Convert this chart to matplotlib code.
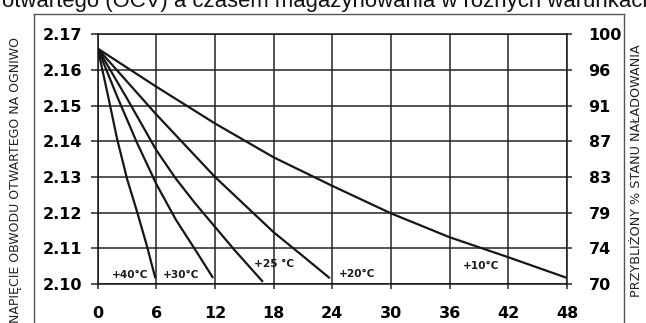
import matplotlib
matplotlib.use("Agg")
import matplotlib.pyplot as plt
from matplotlib.lines import Line2D

plt.rcParams['font.family'] = ['DejaVu Sans']

# ---- data ----
hours_ticks = [0, 6, 12, 18, 24, 30, 36, 42, 48]
voltage_ticks = [2.10, 2.11, 2.12, 2.13, 2.14, 2.15, 2.16, 2.17]
soc_labels = ['70', '74', '79', '83', '87', '91', '96', '100']

t40 = [0, 1, 2, 3, 4, 5, 5.9]
v40 = [2.166, 2.1535, 2.1405, 2.1295, 2.1205, 2.111, 2.1016]

t30 = [0, 2, 4, 6, 8, 10, 11.8]
v30 = [2.166, 2.1525, 2.1397, 2.128, 2.118, 2.1095, 2.1017]

t25 = [0, 3, 6, 8, 10, 12, 14, 16.9]
v25 = [2.166, 2.152, 2.1375, 2.1295, 2.1225, 2.116, 2.1095, 2.1006]

t20 = [0, 6, 12, 18, 21, 23.75]
v20 = [2.166, 2.1475, 2.130, 2.1145, 2.1078, 2.1016]

t10 = [0, 6, 12, 18, 24, 30, 36, 42, 48]
v10 = [2.166, 2.1553, 2.1450, 2.1355, 2.1275, 2.1198, 2.1131, 2.1075, 2.1017]

series = [(t40, v40), (t30, v30), (t25, v25), (t20, v20), (t10, v10)]

curve_labels = ['+40°C', '+30°C', '+25 °C', '+20°C', '+10°C']
label_x = [1.4, 6.7, 16.0, 24.7, 37.4]
label_y = [2.1025, 2.1025, 2.1056, 2.1027, 2.1051]

title_text = 'otwartego (OCV) a czasem magazynowania w różnych warunkach temperaturowych'
left_label = 'NAPIĘCIE OBWODU OTWARTEGO NA OGNIWO'
right_label = 'PRZYBLIŻONY % STANU NAŁADOWANIA'

# ---- figure ----
W, H = 646, 323
fig = plt.figure(figsize=(W / 100, H / 100), dpi=100)
ax = fig.add_axes([97.7 / W, 1 - 284 / H, (567 - 97.7) / W, (284 - 34.3) / H])

grid_c = '#242424'
for t, v in series:
    ax.plot(t, v, color='#161616', lw=1.6, solid_capstyle='butt', zorder=3)

ax.set_xlim(0, 48)
ax.set_ylim(2.10, 2.17)
ax.set_xticks(hours_ticks)
ax.set_xticklabels([str(h) for h in hours_ticks])
ax.set_yticks(voltage_ticks)
ax.set_yticklabels(['%.2f' % v for v in voltage_ticks])
ax.grid(True, color=grid_c, lw=1.1, zorder=1)
for s in ax.spines.values():
    s.set_color('#161616')
    s.set_linewidth(1.1)

ax.tick_params(axis='y', direction='out', length=5, width=1.1, color=grid_c,
               pad=6, labelsize=11.5)
ax.tick_params(axis='x', direction='out', length=3.5, width=1.1, color=grid_c,
               pad=12.5, labelsize=11.5)
for lab in ax.get_xticklabels() + ax.get_yticklabels():
    lab.set_fontweight('bold')

ax2 = ax.twinx()
ax2.set_ylim(2.10, 2.17)
ax2.set_yticks(voltage_ticks)
ax2.set_yticklabels(soc_labels)
ax2.tick_params(axis='y', direction='out', length=3.5, width=1.1, color=grid_c,
                pad=12, labelsize=11.5)
for lab in ax2.get_yticklabels():
    lab.set_fontweight('bold')
for s in ax2.spines.values():
    s.set_visible(False)

for txt, x, y in zip(curve_labels, label_x, label_y):
    ax.text(x, y, txt, fontsize=7.6, fontweight='bold', ha='left', va='center',
            color='#1a1a1a', zorder=4)

# outer frame
fc = '#555555'
fig.add_artist(Line2D([34 / W, 34 / W], [0, 1 - 14 / H], transform=fig.transFigure, color=fc, lw=1.0))
fig.add_artist(Line2D([624 / W, 624 / W], [0, 1 - 14 / H], transform=fig.transFigure, color=fc, lw=1.0))
fig.add_artist(Line2D([34 / W, 624 / W], [1 - 14 / H, 1 - 14 / H], transform=fig.transFigure, color=fc, lw=1.0))

fig.text(2 / W, 1 - 7.5 / H, title_text, fontsize=15.9, family='Liberation Sans',
         ha='left', va='baseline', color='#111111')
fig.text(16 / W, 1 - 180 / H, left_label, rotation=90, fontsize=9, ha='center', va='center', color='#222222')
fig.text(636 / W, 1 - 171 / H, right_label, rotation=90, fontsize=9.2, ha='center', va='center', color='#222222')

fig.savefig('out.png', dpi=100)
